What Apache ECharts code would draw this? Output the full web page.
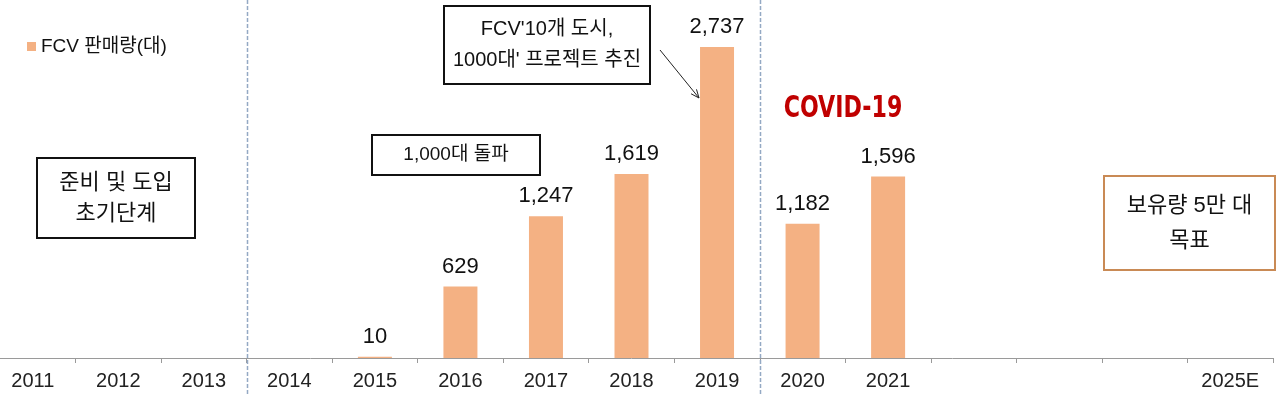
<!DOCTYPE html>
<html>
<head>
<meta charset="utf-8">
<script src="https://cdn.jsdelivr.net/npm/echarts@6/dist/echarts.min.js"></script>
<style>
html,body{margin:0;padding:0;background:#fff;overflow:hidden;}
#wrap{width:1280px;height:396px;overflow:hidden;position:relative;}
#c{width:1290px;height:396px;position:absolute;left:-10px;top:0;}
</style>
</head>
<body>
<div id="wrap"><div id="c"></div></div>
<script>
const categories = ['2011','2012','2013','2014','2015','2016','2017','2018','2019','2020','2021','2022','2023','2024','2025E'];
const tickLabels = ['2011','2012','2013','2014','2015','2016','2017','2018','2019','2020','2021','','','','2025E'];
const salesValues = [null,null,null,null,10,629,1247,1619,2737,1182,1596,null,null,null,null];
const seriesName = 'FCV 판매량(대)';
const phaseBoundaries = [2.5, 8.5];

const OFF = 10; // canvas is shifted 10px left of the page
const KR = "'Liberation Sans','Noto Sans CJK KR',sans-serif";
const chart = echarts.init(document.getElementById('c'), null, {renderer:'canvas'});

const option = {
  animation: false,
  backgroundColor: '#fff',
  grid: {left: 0, right: 7, top: 0, bottom: 38, containLabel: false},
  legend: {
    left: 22 + OFF, top: 32,
    itemWidth: 9, itemHeight: 9, itemGap: 5,
    icon: 'rect',
    textStyle: {fontSize: 19, color: '#111', fontFamily: KR},
    data: [seriesName]
  },
  xAxis: {
    type: 'category',
    data: categories,
    axisLine: {lineStyle: {color: '#9a9a9a', width: 1}},
    axisTick: {show: true, length: 5, lineStyle: {color: '#9a9a9a'}},
    axisLabel: {
      fontSize: 20, color: '#222', margin: 13, fontFamily: KR,
      formatter: (v, i) => tickLabels[i]
    }
  },
  yAxis: {
    type: 'value', min: 0, max: 3150,
    show: false,
    splitLine: {show: false}
  },
  series: [{
    name: seriesName,
    type: 'bar',
    data: salesValues,
    barWidth: 34,
    itemStyle: {color: '#F4B183'},
    label: {
      show: true, position: 'top', distance: 9,
      fontSize: 22, color: '#111', fontFamily: KR,
      formatter: p => p.value == null ? '' : p.value.toLocaleString('en-US')
    }
  }]
};
chart.setOption(option);

function boxText(x, y, w, h, text, stroke, fs, lh) {
  return [
    {type:'rect', shape:{x:x + OFF, y:y, width:w, height:h}, style:{fill:'#fff', stroke:stroke, lineWidth:2}, z:10},
    {type:'text', x: x + OFF + w/2, y: y + h/2, style:{text:text, fontSize:fs, fontFamily:KR, fill:'#111', align:'center', verticalAlign:'middle', lineHeight:lh}, z:11}
  ];
}

const g = [];
phaseBoundaries.forEach(b => {
  const x0 = chart.convertToPixel({xAxisIndex:0}, Math.floor(b));
  const x1 = chart.convertToPixel({xAxisIndex:0}, Math.ceil(b));
  const x = Math.round((x0 + x1) / 2) + 0.5;
  g.push({type:'line', shape:{x1:x, y1:0, x2:x, y2:396}, style:{stroke:'#94a9c4', lineWidth:1.5, lineDash:[4,2]}, z:5});
});
g.push(...boxText(37, 158, 158, 80, '준비 및 도입\n초기단계', '#111', 22, 31));
g.push(...boxText(372, 135, 168, 40, '1,000대 돌파', '#111', 19, 24));
g.push(...boxText(444, 6, 206, 78, "FCV'10개 도시,\n1000대' 프로젝트 추진", '#111', 20, 31));
g.push(...boxText(1104, 176, 171, 94, '보유량 5만 대\n목표', '#C98A55', 22, 35));
(function(){
  const ax = 660 + OFF, ay = 50, bx = 699 + OFF, by = 98;
  g.push({type:'line', shape:{x1:ax, y1:ay, x2:bx, y2:by}, style:{stroke:'#222', lineWidth:1}, z:12});
  const ang = Math.atan2(by-ay, bx-ax);
  const L = 9, a = 0.4;
  g.push({type:'polyline', shape:{points:[
    [bx - L*Math.cos(ang - a), by - L*Math.sin(ang - a)],
    [bx, by],
    [bx - L*Math.cos(ang + a), by - L*Math.sin(ang + a)]
  ]}, style:{stroke:'#222', lineWidth:1, fill:null}, z:12});
})();
g.push({type:'text', x:843 + OFF, y:109, scaleX:0.82, style:{text:'COVID-19', fontSize:30, fontWeight:'bold', fill:'#C00000', align:'center', verticalAlign:'middle', fontFamily:"'Liberation Sans Narrow','DejaVu Sans Condensed','Liberation Sans',sans-serif"}, z:11});
chart.setOption({graphic: g});
</script>
</body>
</html>
